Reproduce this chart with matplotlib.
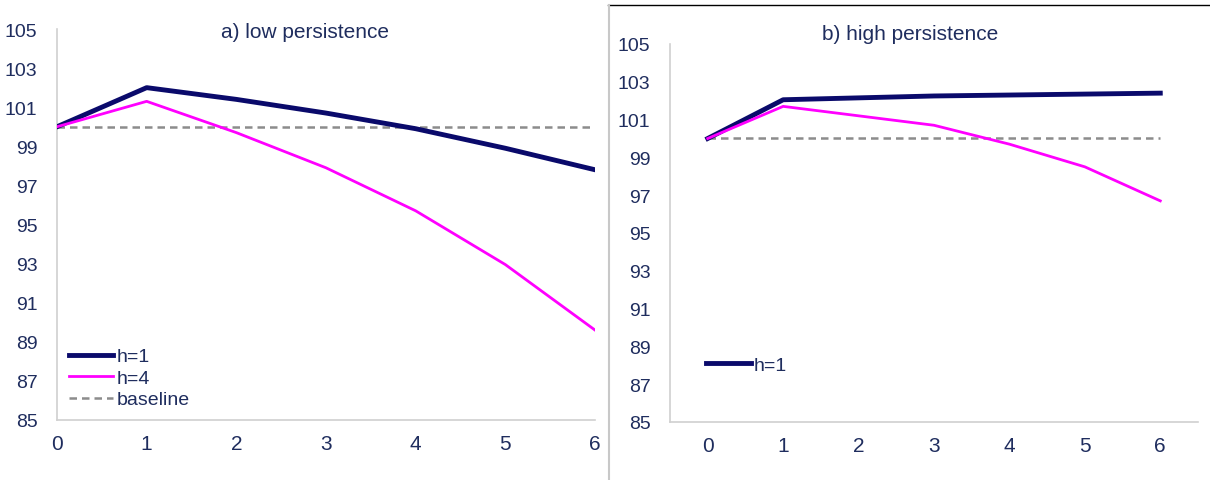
import matplotlib.pyplot as plt
from matplotlib.lines import Line2D

# horizons 0..6
periods = [0, 1, 2, 3, 4, 5, 6]

# a) low persistence
low_h1 = [100, 102.0, 101.4, 100.7, 99.9, 98.9, 97.8]
low_h4 = [100, 101.3, 99.7, 97.9, 95.7, 92.95, 89.6]
# b) high persistence
high_h1 = [100, 102.05, 102.15, 102.25, 102.3, 102.35, 102.4]
high_h4 = [100, 101.7, 101.2, 100.7, 99.7, 98.5, 96.7]
baseline = [100, 100, 100, 100, 100, 100, 100]

yticks = [85, 87, 89, 91, 93, 95, 97, 99, 101, 103, 105]

navy = '#0a0a6b'
pink = '#ff00ff'
grey = '#8c8c8c'
txt = '#1f2d5e'

plt.rcParams['font.family'] = ['Liberation Sans Narrow', 'Liberation Sans', 'DejaVu Sans']

fig = plt.figure(figsize=(12.1, 4.81), dpi=100)
ax1 = fig.add_axes([57/1210, 1-421/481, (595-57)/1210, (421-30)/481])
ax2 = fig.add_axes([670/1210, 1-423/481, (1198-670)/1210, (423-45)/481])

def style(ax, xlim):
    ax.set_ylim(85, 105)
    ax.set_xlim(*xlim)
    ax.set_yticks(yticks)
    ax.set_xticks(periods)
    for s in ['top', 'right']:
        ax.spines[s].set_visible(False)
    for s in ['left', 'bottom']:
        ax.spines[s].set_color('#d0d0d0')
        ax.spines[s].set_linewidth(1.2)
    ax.tick_params(length=0, labelsize=15, colors=txt, pad=10)
    ax.tick_params(axis='y', pad=14)

# panel a
ax1.plot(periods, baseline, color=grey, lw=1.8, ls=(0, (3, 2)), label='baseline', zorder=2)
ax1.plot(periods, low_h1, color=navy, lw=3.5, label='h=1', zorder=3)
ax1.plot(periods, low_h4, color=pink, lw=2, label='h=4', zorder=4)
style(ax1, (0, 6))
ax1.set_yticklabels([str(v) for v in yticks], fontsize=14)
fig.text(305/1210, 1-33/481, 'a) low persistence', fontsize=15, color=txt,
         ha='center', va='center')
h, l = ax1.get_legend_handles_labels()
ax1.legend([h[1], h[2], h[0]], [l[1], l[2], l[0]], loc='lower left', frameon=False,
           fontsize=14, labelcolor=txt, handlelength=2.3, handletextpad=0.15,
           labelspacing=0.2, borderaxespad=0.2, bbox_to_anchor=(0.0, 0.0))

# panel b
ax2.plot(periods, baseline, color=grey, lw=1.8, ls=(0, (3, 2)), zorder=2)
ax2.plot(periods, high_h1, color=navy, lw=3.5, label='h=1', zorder=3)
ax2.plot(periods, high_h4, color=pink, lw=2, zorder=4)
style(ax2, (-0.5, 6.5))
ax2.set_yticklabels([str(v) for v in yticks], fontsize=14)
fig.text(910/1210, 1-35/481, 'b) high persistence', fontsize=15, color=txt,
         ha='center', va='center')
ax2.legend(loc='lower left', frameon=False, fontsize=14, labelcolor=txt,
           handlelength=2.3, handletextpad=0.15, bbox_to_anchor=(0.035, 0.08))

# frame around right panel
fig.add_artist(Line2D([608/1210, 1], [1-6/481, 1-6/481], color='black', lw=1))
fig.add_artist(Line2D([609/1210, 609/1210], [0, 1-6/481], color='#c8c8c8', lw=1.5))

plt.savefig('out.png', dpi=100)
